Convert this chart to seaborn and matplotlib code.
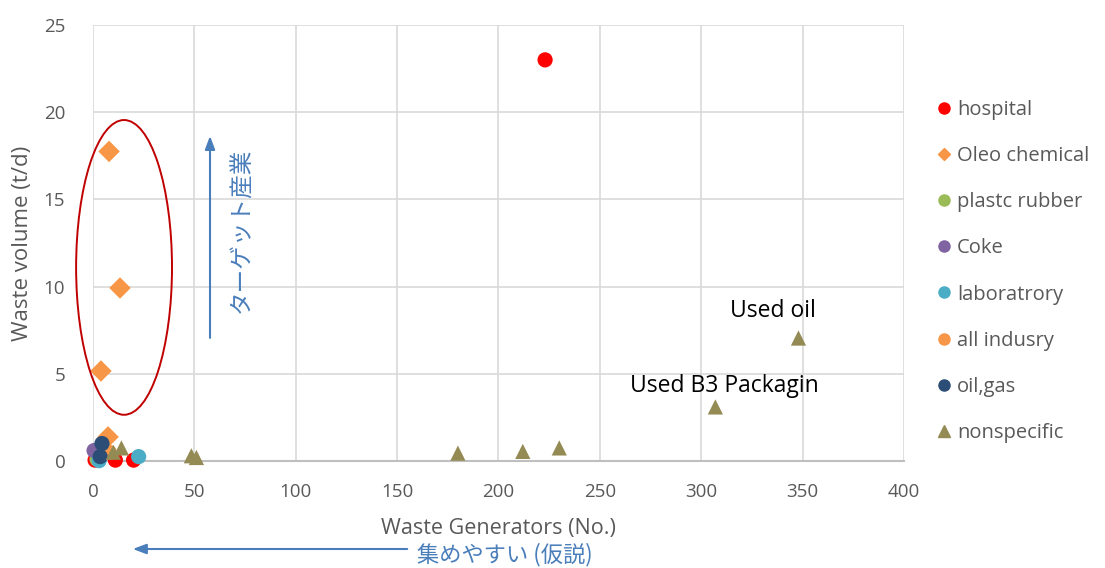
import matplotlib.pyplot as plt
import pandas as pd
import seaborn as sns
from matplotlib.patches import Ellipse
from matplotlib.lines import Line2D

categories = ['hospital', 'Oleo chemical', 'plastc rubber', 'Coke',
              'laboratrory', 'all indusry', 'oil,gas', 'nonspecific']
colors = ['#FF0000', '#F79646', '#9BBB59', '#8064A2',
          '#4BACC6', '#F79646', '#2C4D75', '#948A54']
markers = ['o', 'D', 'o', 'o', 'o', 'o', 'o', '^']

# values: generators (No.), volume (t/d)
hospital_x = [1, 11, 20, 223]
hospital_y = [0.05, 0.05, 0.05, 23.0]
oleo_x = [7.9, 13.3, 3.9, 7.4]
oleo_y = [17.75, 9.92, 5.16, 1.38]
plastic_x = [2]
plastic_y = [0.1]
coke_x = [0.5]
coke_y = [0.6]
lab_x = [3, 22.5]
lab_y = [0.02, 0.25]
allind_x = [8]
allind_y = [0.5]
oilgas_x = [4.4, 3.5]
oilgas_y = [1.0, 0.25]
nonspec_x = [10, 14, 48.5, 51, 180, 212, 230, 307, 348]
nonspec_y = [0.5, 0.75, 0.3, 0.2, 0.45, 0.55, 0.75, 3.1, 7.05]

series_x = [hospital_x, oleo_x, plastic_x, coke_x, lab_x, allind_x, oilgas_x, nonspec_x]
series_y = [hospital_y, oleo_y, plastic_y, coke_y, lab_y, allind_y, oilgas_y, nonspec_y]

rows = []
for cat, xs, ys in zip(categories, series_x, series_y):
    for x, y in zip(xs, ys):
        rows.append({'category': cat, 'generators': x, 'volume': y})
df = pd.DataFrame(rows)

sns.set_style('white')
plt.rcParams['font.family'] = ['Open Sans', 'Noto Sans CJK JP', 'DejaVu Sans']
jp = ['Noto Sans CJK JP', 'DejaVu Sans']
blue = '#4A7EBB'
grey = '#595959'

fig = plt.figure(figsize=(11.05, 5.68), dpi=100)
ax = fig.add_axes([0.0842, 0.1884, 0.7338, 0.7676])

sns.scatterplot(data=df, x='generators', y='volume', hue='category', style='category',
                hue_order=categories, style_order=categories,
                palette=dict(zip(categories, colors)),
                markers=dict(zip(categories, markers)),
                s=120, linewidth=0, legend=False, ax=ax, zorder=3)
for coll in ax.collections:
    coll.set_clip_on(False)

ax.set_xlim(0, 400)
ax.set_ylim(0, 25)
ax.set_xticks(range(0, 401, 50))
ax.set_yticks(range(0, 26, 5))
ax.grid(True, color='#D9D9D9', linewidth=1.2)
for side in ['top', 'right', 'left']:
    ax.spines[side].set_visible(False)
ax.spines['bottom'].set_color('#BFBFBF')
ax.spines['bottom'].set_linewidth(1.5)
ax.tick_params(axis='x', length=0, labelsize=13.5, colors=grey, pad=16)
ax.tick_params(axis='y', length=0, labelsize=13.5, colors=grey, pad=20)
ax.set_xlabel('Waste Generators (No.)', fontsize=15.5, color=grey, labelpad=12)
ax.set_ylabel('Waste volume (t/d)', fontsize=16, color=grey, labelpad=8)

ax.text(335.5, 8.6, 'Used oil', fontsize=16.5, ha='center', va='center', color='black')
ax.text(311.5, 4.3, 'Used B3 Packagin', fontsize=16.5, ha='center', va='center', color='black')

ax.add_patch(Ellipse((15.3, 11.1), 47.3, 16.9, fill=False, edgecolor='#C00000',
                     linewidth=1.4, zorder=4, clip_on=False))
ax.annotate('', xy=(57.7, 18.8), xytext=(57.7, 6.9),
            arrowprops=dict(arrowstyle='-|>,head_length=0.8,head_width=0.3',
                            color=blue, linewidth=1.5))
ax.text(73.5, 13.2, 'ターゲット産業', rotation=90, fontsize=17, color=blue,
        ha='center', va='center', family=jp)

plt.annotate('', xy=(130, 19), xytext=(410, 19), xycoords='figure pixels',
             textcoords='figure pixels',
             arrowprops=dict(arrowstyle='-|>,head_length=0.8,head_width=0.3',
                             color=blue, linewidth=1.5))
fig.text(505 / 1105, 13 / 568, '集めやすい (仮説)', fontsize=16, color=blue,
         ha='center', va='center', family=jp)

handles = [Line2D([], [], linestyle='none', marker=m, color=c,
                  markersize=8 if m != 'D' else 6.5, label=l)
           for l, c, m in zip(categories, colors, markers)]
ax.legend(handles=handles, loc='upper left', bbox_to_anchor=(1.012, 0.87),
          frameon=False, fontsize=14.5, labelspacing=1.3, handletextpad=0.05,
          handlelength=1.2, labelcolor=grey)

plt.savefig('out.png', dpi=100)
